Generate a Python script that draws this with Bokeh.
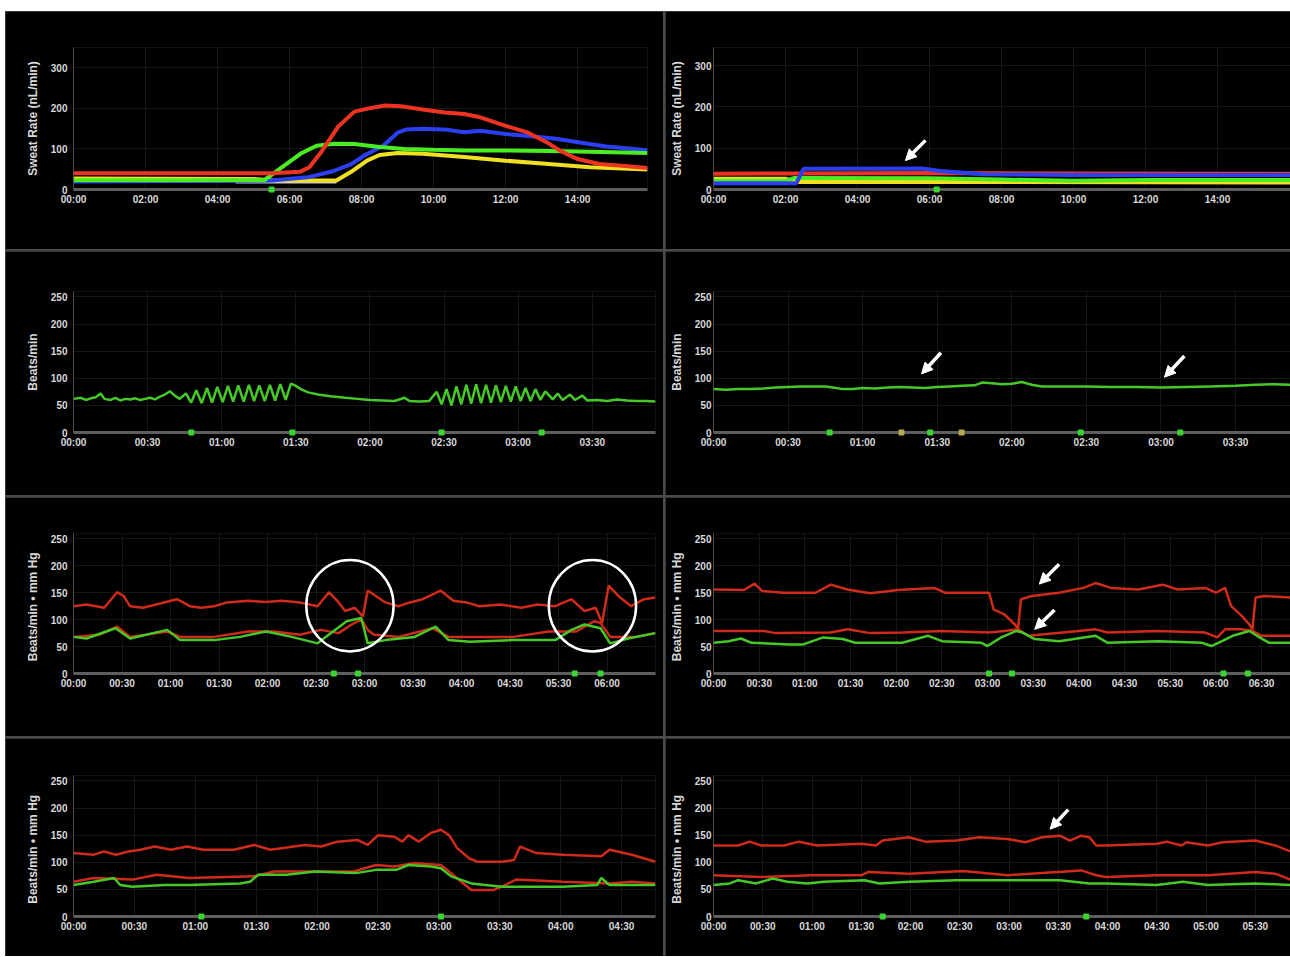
from bokeh.plotting import figure
from bokeh.layouts import row, column
from bokeh.models import FixedTicker, Arrow, NormalHead, Range1d
from bokeh.embed import file_html
from bokeh.resources import INLINE

# ---------------- DATA ----------------
# Row 1 left: sweat rate (nL/min) vs hours
R1L_RED_T = [0, 5.5, 6.3, 6.55, 6.9, 7.35, 7.8, 8.2, 8.65, 9.1, 9.7, 10.3, 10.85, 11.3, 12.0, 12.6, 13.15, 13.5, 14.0, 14.6, 15.15, 15.94]
R1L_RED = [40, 40, 44, 55, 95, 155, 192, 200, 207, 205, 197, 190, 186, 178, 157, 141, 116, 96, 75, 63, 59, 53]
R1L_BLUE_T = [0, 3.0, 5.5, 6.5, 7.2, 7.7, 8.1, 8.6, 9.0, 9.25, 9.7, 10.4, 10.85, 11.3, 12.0, 12.7, 13.4, 14.1, 14.8, 15.94]
R1L_BLUE = [20, 21, 22, 30, 45, 62, 85, 108, 140, 148, 150, 147, 141, 145, 137, 131, 125, 115, 106, 97]
R1L_GREEN_T = [0, 5.3, 5.85, 6.3, 6.75, 7.25, 7.8, 8.5, 9.2, 10.0, 10.85, 12.0, 13.2, 14.35, 15.94]
R1L_GREEN = [23, 23, 59, 88, 108, 113, 112, 105, 100, 98, 96, 96, 95, 93, 90]
R1L_YELLOW_T = [0, 5.0, 5.5, 7.3, 7.7, 8.15, 8.5, 9.0, 9.7, 10.85, 12.0, 13.2, 14.35, 15.94]
R1L_YELLOW = [27, 26, 23, 22, 43, 71, 85, 90, 88, 80, 71, 63, 55, 49]
R1L_GRAY_T = [4.5, 7.3]
R1L_GRAY = [20, 20]
R1L_EVENTS = [5.5]

# Row 1 right
R1R_RED_T = [0, 2.5, 6.0, 10.0, 16.03]
R1R_RED = [38, 39, 40, 39, 38]
R1R_BLUE_T = [0, 2.3, 2.5, 5.8, 6.3, 7.5, 10.0, 16.03]
R1R_BLUE = [15, 15, 50, 51, 45, 37, 35, 35]
R1R_GREEN_T = [0, 2.0, 2.25, 6.0, 8.0, 10.0, 12.0, 16.03]
R1R_GREEN = [21, 21, 28, 27, 24, 21, 23, 23]
R1R_YELLOW_T = [0, 2.0, 2.3, 8.0, 16.03]
R1R_YELLOW = [26, 26, 18, 18, 17]
R1R_EVENTS = [6.2]

# Row 2 left: heart rate (beats/min) vs minutes
R2L_T = [0, 3, 5, 7, 9, 11, 12.5, 15, 17, 19, 21, 23, 25, 27, 29, 31, 33, 35, 37, 39, 41, 43,
         45.5, 47.6, 49.7, 51.9, 54, 56.1, 58.2, 60.4, 62.5, 64.6, 66.7, 68.9, 71, 73.1, 75.2, 77.4, 79.5, 81.6, 83.7, 85.9, 88,
         90, 92, 95, 99, 104, 110, 115, 120, 125, 130, 134, 136, 140, 144,
         147, 149, 151, 153, 155, 157, 159, 161, 163, 165, 167, 169, 171, 173, 175, 177, 179, 181, 183, 185, 187, 189, 191,
         194, 196, 198, 201, 203, 206, 208, 212, 216, 220, 224, 228, 232, 235.6]
R2L_HR = [62, 64, 60, 63, 65, 72, 62, 60, 64, 59, 62, 61, 63, 60, 62, 64, 61, 66, 70, 76, 68, 62,
          72, 55, 78, 54, 82, 55, 84, 56, 86, 57, 87, 57, 88, 58, 87, 58, 88, 59, 89, 60, 90,
          86, 80, 74, 70, 67, 64, 62, 60, 59, 58, 64, 58, 57, 58,
          75, 52, 80, 50, 85, 52, 88, 53, 89, 54, 88, 55, 87, 56, 86, 57, 85, 58, 82, 58, 80, 60, 76,
          61, 72, 60, 70, 60, 68, 59, 60, 58, 61, 59, 58, 58, 57]
R2L_EVENTS = [47.7, 88.6, 149, 189.5]

# Row 2 right
R2R_T = [0, 5, 10, 15, 20, 25, 30, 35, 40, 45, 48, 52, 56, 60, 65, 70, 75, 80, 85, 90,
         95, 100, 105, 108, 112, 116, 120, 124, 128, 132, 140, 150, 160, 170, 180, 190, 200, 210, 218, 225, 232]
R2R_HR = [80, 79, 80, 80, 81, 83, 84, 85, 85, 85, 83, 80, 80, 82, 81, 83, 84, 83, 82, 84,
          85, 86, 87, 92, 91, 89, 90, 93, 88, 85, 85, 85, 84, 84, 83, 84, 85, 86, 88, 89, 88]
R2R_EVENTS = [46.7, 87.2, 147.7, 187.8]
R2R_EVENTS_B = [75.6, 99.8]

# Row 3 left
R3L_BP_T = [0, 8, 19, 27, 31, 35, 43, 51, 64, 72, 79, 87, 95, 108, 119, 129, 140, 151, 158, 164, 168, 174, 179, 182,
            187, 193, 201, 208, 216, 227, 235, 243, 251, 264, 277, 287, 298, 308, 316, 323, 327, 331, 337, 345, 353, 360]
R3L_BP = [125, 128, 122, 151, 144, 125, 122, 128, 138, 125, 122, 125, 132, 135, 133, 135, 132, 125, 151, 132, 116, 122, 106, 154,
          144, 132, 125, 132, 138, 154, 135, 132, 125, 128, 122, 128, 125, 138, 116, 122, 94, 163, 144, 125, 138, 141]
R3L_LOW_T = [0, 16, 27, 35, 58, 66, 87, 108, 124, 140, 153, 164, 172, 178, 182, 186, 201, 222, 232, 272, 294, 311, 322, 326, 332, 348, 360]
R3L_LOW = [68, 72, 87, 68, 78, 68, 68, 78, 78, 72, 81, 75, 91, 100, 81, 72, 68, 84, 68, 68, 78, 78, 97, 94, 68, 68, 75]
R3L_HR_T = [0, 8, 26, 35, 58, 66, 87, 103, 119, 135, 151, 156, 169, 178, 182, 193, 211, 224, 232, 245, 272, 298, 308, 316, 326, 332, 343, 360]
R3L_HR = [68, 65, 84, 65, 81, 62, 62, 68, 78, 68, 56, 68, 97, 103, 56, 62, 68, 87, 62, 59, 62, 62, 81, 91, 84, 56, 65, 75]
R3L_EVENTS = [161, 176, 310, 326]
R3L_CIRCLE_X = [171, 321]
R3L_CIRCLE_Y = [126, 126]

# Row 3 right
R3R_BP_T = [0, 20, 27, 32, 46, 67, 77, 88, 103, 121, 145, 152, 181, 184, 191, 198, 200, 202, 209, 227, 243, 251, 261, 279,
            295, 305, 323, 330, 336, 340, 347, 352, 354, 356, 362, 379]
R3R_BP = [156, 155, 167, 153, 150, 150, 165, 156, 149, 155, 159, 150, 150, 119, 110, 91, 82, 138, 144, 150, 159, 168, 159, 156,
          165, 156, 159, 150, 159, 125, 107, 91, 82, 141, 144, 141]
R3R_LOW_T = [0, 33, 41, 77, 88, 103, 124, 150, 181, 191, 200, 207, 217, 240, 251, 259, 292, 323, 331, 336, 347, 354, 360, 379]
R3R_LOW = [79, 79, 75, 76, 82, 75, 76, 79, 76, 79, 82, 70, 73, 79, 82, 76, 79, 76, 67, 82, 82, 79, 70, 70]
R3R_HR_T = [0, 10, 18, 25, 50, 59, 72, 85, 93, 124, 141, 150, 176, 180, 189, 199, 203, 211, 227, 251, 259, 292, 321, 327,
            334, 341, 352, 357, 365, 379]
R3R_HR = [57, 60, 65, 57, 54, 54, 67, 64, 57, 57, 70, 60, 57, 51, 67, 79, 76, 64, 60, 70, 57, 60, 57, 51,
          60, 70, 79, 70, 57, 57]
R3R_EVENTS = [181, 196, 335, 351]

# Row 4 left
R4L_BP_T = [0, 10, 15, 21, 27, 33, 40, 48, 56, 64, 79, 89, 97, 114, 122, 130, 140, 145, 150, 158, 162, 165, 170, 176,
            181, 185, 189, 195, 199, 211, 217, 220, 228, 241, 260, 264, 275, 286.7]
R4L_BP = [117, 114, 120, 114, 120, 123, 129, 123, 129, 123, 123, 132, 123, 132, 129, 138, 141, 132, 150, 147, 138, 150, 138, 154,
          160, 150, 126, 107, 101, 101, 104, 129, 117, 114, 111, 123, 114, 101]
R4L_LOW_T = [0, 10, 29, 41, 57, 89, 99, 119, 138, 149, 158, 168, 181, 186, 191, 196, 207, 211, 218, 241, 264, 275, 286.7]
R4L_LOW = [64, 71, 68, 77, 71, 74, 83, 83, 83, 95, 92, 98, 95, 80, 64, 49, 49, 55, 68, 64, 61, 64, 61]
R4L_HR_T = [0, 10, 20, 23, 29, 45, 57, 82, 87, 91, 105, 119, 139, 149, 159, 165, 176, 181, 186, 196, 211, 241, 258, 260, 264, 286.7]
R4L_HR = [58, 64, 71, 58, 55, 58, 58, 61, 64, 77, 77, 83, 80, 86, 86, 95, 92, 89, 74, 61, 55, 55, 58, 71, 58, 58]
R4L_EVENTS = [63, 181]

# Row 4 right
R4R_BP_T = [0, 15, 22, 29, 43, 52, 63, 90, 99, 103, 119, 129, 148, 162, 179, 190, 200, 211, 217, 224, 229, 233, 239,
            270, 276, 285, 288, 301, 310, 330, 342, 351.4]
R4R_BP = [131, 131, 138, 131, 131, 138, 131, 134, 131, 140, 146, 138, 140, 146, 143, 137, 146, 149, 140, 149, 146, 131, 131,
          134, 138, 131, 137, 131, 137, 140, 131, 120]
R4R_LOW_T = [0, 29, 60, 90, 94, 119, 152, 179, 200, 224, 233, 239, 270, 301, 330, 342, 351.4]
R4R_LOW = [76, 73, 76, 76, 82, 79, 84, 76, 80, 85, 76, 73, 76, 76, 82, 79, 68]
R4R_HR_T = [0, 10, 15, 26, 36, 45, 57, 67, 92, 101, 119, 148, 179, 211, 229, 239, 270, 286, 301, 330, 351.4]
R4R_HR = [58, 61, 67, 61, 70, 64, 61, 64, 67, 61, 64, 67, 67, 67, 61, 61, 58, 64, 58, 61, 58]
R4R_EVENTS = [103, 227]

# Axis tick labels
HOUR_LABELS = ["00:00", "02:00", "04:00", "06:00", "08:00", "10:00", "12:00", "14:00"]
R2_LABELS = ["00:00", "00:30", "01:00", "01:30", "02:00", "02:30", "03:00", "03:30"]
R3L_LABELS = ["00:00", "00:30", "01:00", "01:30", "02:00", "02:30", "03:00", "03:30", "04:00", "04:30", "05:30", "06:00"]
R3R_LABELS = R3L_LABELS + ["06:30"]
R4L_LABELS = ["00:00", "00:30", "01:00", "01:30", "02:00", "02:30", "03:00", "03:30", "04:00", "04:30"]
R4R_LABELS = R4L_LABELS + ["05:00", "05:30"]
SWEAT_TICKS = [0, 100, 200, 300]
BPM_TICKS = [0, 50, 100, 150, 200, 250]

# ---------------- STYLE ----------------
BG = "#000000"
SEP = "#4a4a4a"
TXT = "#d8d8d8"
FONT = "Liberation Sans"
RED1, BLUE1, GREEN1, YELLOW1, GRAY1 = "#ee3322", "#2a40f0", "#48ee22", "#f0e020", "#c8c8dc"
RED, GREEN = "#d02a1a", "#46c828"
EVT = "#3ad630"


def panel(W, H, bl, br, bt, bb, x_end, y_end, y_ticks, step, labels, ylabel, ystand):
    p = figure(width=W, height=H, output_backend="svg", toolbar_location=None, tools="",
               x_range=Range1d(0, x_end), y_range=Range1d(0, y_end),
               min_border_left=bl, min_border_right=br, min_border_top=bt, min_border_bottom=bb,
               background_fill_color=BG, border_fill_color=BG, outline_line_color=None)
    ticks = [i * step for i in range(len(labels))]
    p.xaxis.ticker = FixedTicker(ticks=ticks)
    p.xaxis.major_label_overrides = {t: l for t, l in zip(ticks, labels)}
    p.yaxis.ticker = FixedTicker(ticks=y_ticks)
    p.xgrid.ticker = FixedTicker(ticks=ticks)
    p.ygrid.ticker = FixedTicker(ticks=y_ticks)
    p.grid.grid_line_color = "#171717"
    for ax in (p.xaxis[0], p.yaxis[0]):
        ax.major_tick_line_color = None
        ax.minor_tick_line_color = None
        ax.major_tick_out = 0
        ax.major_tick_in = 0
        ax.minor_tick_out = 0
        ax.minor_tick_in = 0
        ax.major_label_text_color = TXT
        ax.major_label_text_font = FONT
        ax.major_label_text_font_style = "bold"
        ax.major_label_text_font_size = "10px"
    p.xaxis.major_label_standoff = 4
    p.yaxis.major_label_standoff = ystand
    p.xaxis.axis_line_color = "#5e5e5e"
    p.xaxis.axis_line_width = 3
    p.yaxis.axis_line_color = "#4e4e4e"
    p.yaxis.axis_line_width = 1
    p.yaxis.axis_label = ylabel
    p.yaxis.axis_label_text_color = TXT
    p.yaxis.axis_label_text_font = FONT
    p.yaxis.axis_label_text_font_style = "bold"
    p.yaxis.axis_label_text_font_size = "12px"
    p.yaxis.axis_label_standoff = 8
    return p


def events(p, xs, color=EVT):
    p.scatter(xs, [0] * len(xs), marker="square", size=5, color=color, level="overlay")


def arrow(p, xs, ys, xe, ye):
    p.add_layout(Arrow(end=NormalHead(size=11, fill_color="white", line_color="white"),
                       x_start=xs, y_start=ys, x_end=xe, y_end=ye,
                       line_color="white", line_width=3.5))


SWEAT = "Sweat Rate (nL/min)"
BPM = "Beats/min"
BPMHG = "Beats/min  \u2022  mm Hg"

WL, WR = 658, 625

# Row 1
p1 = panel(WL, 238, 68, 16, 36, 56, 15.94, 350, SWEAT_TICKS, 2, HOUR_LABELS, SWEAT, 6)
p1.line(R1L_GRAY_T, R1L_GRAY, color=GRAY1, line_width=4)
p1.line(R1L_YELLOW_T, R1L_YELLOW, color=YELLOW1, line_width=4)
p1.line(R1L_BLUE_T, R1L_BLUE, color=BLUE1, line_width=4)
p1.line(R1L_GREEN_T, R1L_GREEN, color=GREEN1, line_width=4)
p1.line(R1L_RED_T, R1L_RED, color=RED1, line_width=4)
events(p1, R1L_EVENTS)

p2 = panel(WR, 238, 48, 0, 36, 60, 16.03, 344, SWEAT_TICKS, 2, HOUR_LABELS, SWEAT, 2)
p2.line(R1R_YELLOW_T, R1R_YELLOW, color=YELLOW1, line_width=4)
p2.line(R1R_GREEN_T, R1R_GREEN, color=GREEN1, line_width=4)
p2.line(R1R_RED_T, R1R_RED, color=RED1, line_width=4)
p2.line(R1R_BLUE_T, R1R_BLUE, color=BLUE1, line_width=4)
events(p2, R1R_EVENTS)
arrow(p2, 5.89, 119, 5.33, 70)

# Row 2
p3 = panel(WL, 244, 68, 8, 40, 62, 235.6, 260, BPM_TICKS, 30, R2_LABELS, BPM, 6)
p3.line(R2L_T, R2L_HR, color=GREEN, line_width=2.5)
events(p3, R2L_EVENTS)

p4 = panel(WR, 244, 48, 0, 40, 63, 232.1, 260, BPM_TICKS, 30, R2_LABELS, BPM, 2)
p4.line(R2R_T, R2R_HR, color=GREEN, line_width=2.5)
events(p4, R2R_EVENTS)
events(p4, R2R_EVENTS_B, color="#b8a850")
arrow(p4, 91.5, 147, 83.7, 108)
arrow(p4, 189.4, 141, 181.4, 102)

# Row 3
p5 = panel(WL, 239, 68, 8, 36, 63, 360, 260, BPM_TICKS, 30, R3L_LABELS, BPMHG, 6)
p5.line(R3L_BP_T, R3L_BP, color=RED, line_width=2.5)
p5.line(R3L_LOW_T, R3L_LOW, color=RED, line_width=2.5)
p5.line(R3L_HR_T, R3L_HR, color=GREEN, line_width=2.5)
events(p5, R3L_EVENTS)
p5.ellipse(x=R3L_CIRCLE_X, y=R3L_CIRCLE_Y, width=54, height=170,
           fill_color=None, line_color="white", line_width=2.5)

p6 = panel(WR, 239, 48, 0, 36, 63, 379, 260, BPM_TICKS, 30, R3R_LABELS, BPMHG, 2)
p6.line(R3R_BP_T, R3R_BP, color=RED, line_width=2.5)
p6.line(R3R_LOW_T, R3R_LOW, color=RED, line_width=2.5)
p6.line(R3R_HR_T, R3R_HR, color=GREEN, line_width=2.5)
events(p6, R3R_EVENTS)
arrow(p6, 227, 203, 214, 166)
arrow(p6, 224, 118, 211, 82)

# Row 4
p7 = panel(WL, 218, 68, 8, 37, 40, 286.7, 260, BPM_TICKS, 30, R4L_LABELS, BPMHG, 6)
p7.line(R4L_BP_T, R4L_BP, color=RED, line_width=2.5)
p7.line(R4L_LOW_T, R4L_LOW, color=RED, line_width=2.5)
p7.line(R4L_HR_T, R4L_HR, color=GREEN, line_width=2.5)
events(p7, R4L_EVENTS)

p8 = panel(WR, 218, 48, 0, 37, 40, 351.4, 260, BPM_TICKS, 30, R4R_LABELS, BPMHG, 2)
p8.line(R4R_BP_T, R4R_BP, color=RED, line_width=2.5)
p8.line(R4R_LOW_T, R4R_LOW, color=RED, line_width=2.5)
p8.line(R4R_HR_T, R4R_HR, color=GREEN, line_width=2.5)
events(p8, R4R_EVENTS)
arrow(p8, 216, 197, 205, 161)

bg = {"background-color": SEP}
layout = column(
    row(p1, p2, spacing=2, styles=bg),
    row(p3, p4, spacing=2, styles=bg),
    row(p5, p6, spacing=2, styles=bg),
    row(p7, p8, spacing=2, styles=bg),
    spacing=2, styles=bg, margin=(11, 0, 0, 5),
)

open("out.html", "w").write(file_html(layout, INLINE))
